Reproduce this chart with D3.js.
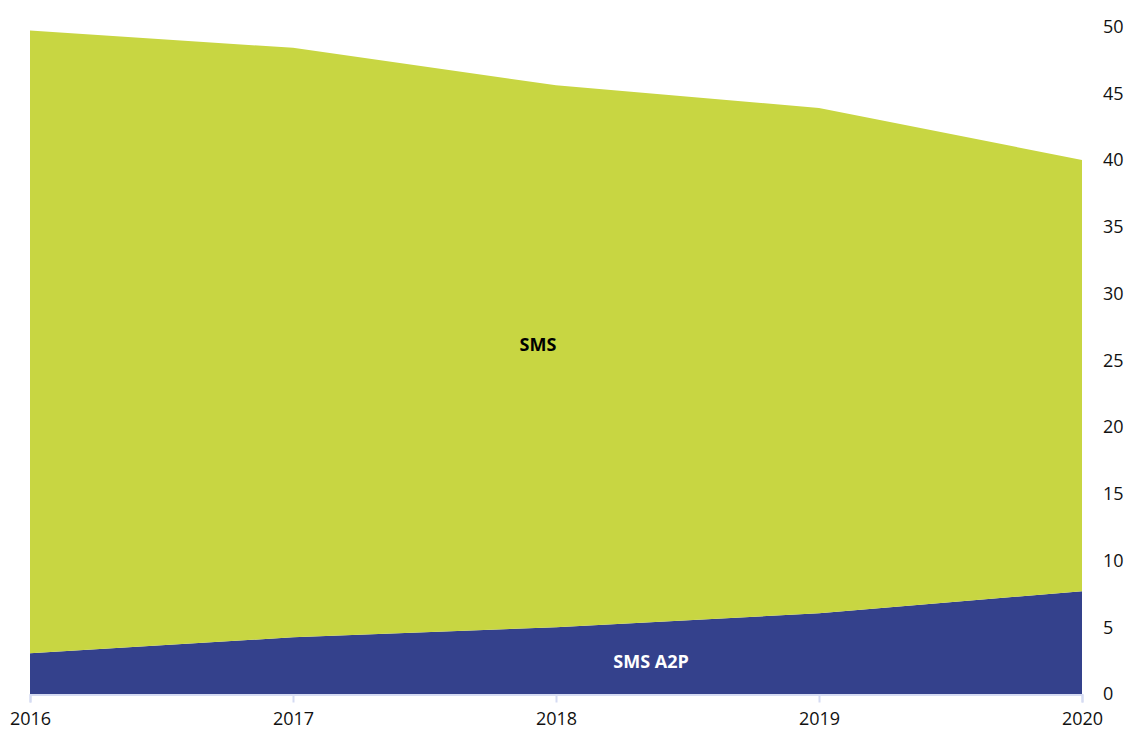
<!DOCTYPE html>
<html>
<head>
<meta charset="utf-8">
<script src="https://cdn.jsdelivr.net/npm/d3@7"></script>
<style>
  html, body { margin: 0; padding: 0; background: #fff; }
  svg { display: block; font-family: "Open Sans", Lato, sans-serif; }
</style>
</head>
<body>
<svg id="chart" width="1134" height="731"></svg>
<script>
// Message volumes by year, stacked: A2P at the bottom, person-to-person SMS above
const years = [2016, 2017, 2018, 2019, 2020];
const smsA2P = [3.05, 4.25, 5.0, 6.05, 7.7];
const sms = [46.65, 44.15, 40.6, 37.85, 32.3];
const yTicks = [0, 5, 10, 15, 20, 25, 30, 35, 40, 45, 50];
const seriesNames = ["SMS A2P", "SMS"];
const seriesColors = ["#34418c", "#c8d642"];

const rows = years.map((yr, i) => ({ year: yr, "SMS A2P": smsA2P[i], "SMS": sms[i] }));
const stacked = d3.stack().keys(seriesNames)(rows);

const svg = d3.select("#chart");
const plotLeft = 30, plotRight = 1082, plotTop = 26.5, plotBottom = 694;

const x = d3.scaleLinear().domain([years[0], years[years.length - 1]]).range([plotLeft, plotRight]);
const y = d3.scaleLinear().domain([0, 50]).range([plotBottom, plotTop]);

const area = d3.area()
  .x(d => x(d.data.year))
  .y0(d => y(d[0]))
  .y1(d => y(d[1]));

svg.append("g").selectAll("path")
  .data(stacked)
  .join("path")
  .attr("d", area)
  .attr("fill", (d, i) => seriesColors[i]);

// Bottom axis: light rule with ticks below each year
const xAxis = svg.append("g")
  .attr("transform", `translate(0,${plotBottom + 0.5})`)
  .call(d3.axisBottom(x).tickValues(years).tickFormat(d3.format("d")).tickSize(8).tickPadding(10));
xAxis.select(".domain").attr("stroke", "#d5dbf2").attr("stroke-width", 2);
xAxis.selectAll(".tick line").attr("stroke", "#d5dbf2").attr("stroke-width", 2);
xAxis.selectAll(".tick text").attr("fill", "#111").attr("font-size", 18)
  .attr("font-family", "'Open Sans', Lato, sans-serif");

// Value axis on the right, labels only
const yAxis = svg.append("g")
  .attr("transform", `translate(${plotRight + 21},0)`)
  .call(d3.axisRight(y).tickValues(yTicks).tickSize(0).tickPadding(0));
yAxis.select(".domain").remove();
yAxis.selectAll(".tick text").attr("fill", "#111").attr("font-size", 18)
  .attr("font-family", "'Open Sans', Lato, sans-serif");

// Series labels inside the areas
svg.append("text")
  .attr("x", (x(2017) + x(2019)) / 2 - 18)
  .attr("y", y(26.2))
  .attr("text-anchor", "middle")
  .attr("dominant-baseline", "central")
  .attr("font-size", 18).attr("font-weight", "bold").attr("fill", "#000")
  .text("SMS");

svg.append("text")
  .attr("x", x(2018) + 95)
  .attr("y", y(2.5))
  .attr("text-anchor", "middle")
  .attr("dominant-baseline", "central")
  .attr("font-size", 18).attr("font-weight", "bold").attr("fill", "#fff")
  .text("SMS A2P");
</script>
</body>
</html>
